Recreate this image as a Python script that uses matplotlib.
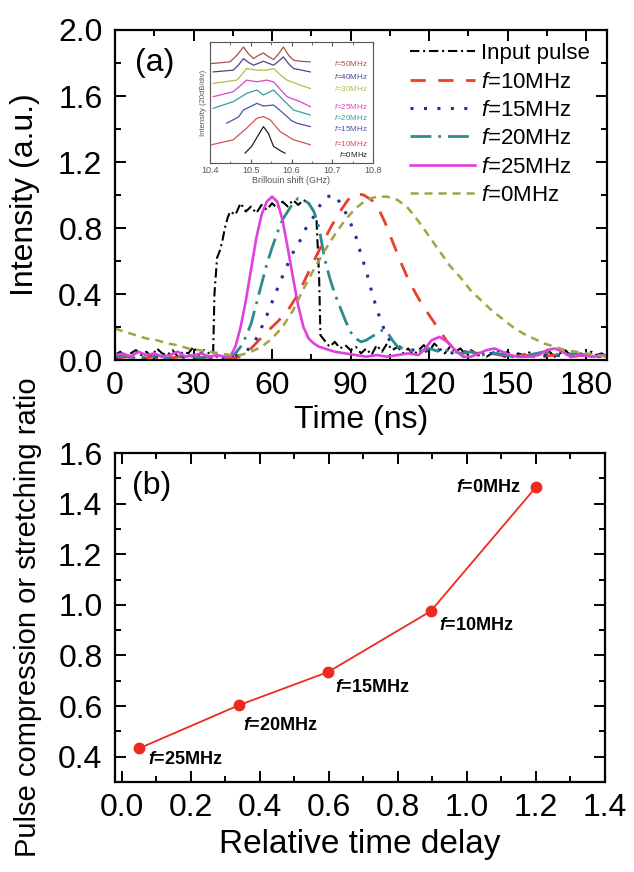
import matplotlib
matplotlib.use("Agg")
import matplotlib.pyplot as plt
from matplotlib.ticker import MultipleLocator, FormatStrFormatter

plt.rcParams['font.family'] = ['Liberation Sans', 'DejaVu Sans']
plt.rcParams['mathtext.fontset'] = 'custom'
plt.rcParams['mathtext.it'] = 'Liberation Sans:italic'
plt.rcParams['mathtext.bf'] = 'Liberation Sans:bold:italic'
plt.rcParams['mathtext.rm'] = 'Liberation Sans'

# ---------------- data: panel (a) time traces (t in ns, intensity a.u.) -------------
input_pulse = [(0,0.03),(2,0.05),(4,0.02),(6,0.04),(8,0.06),(10,0.03),(12,0.05),(14,0.02),(16,0.07),
               (18,0.04),(20,0.03),(22,0.06),(24,0.02),(26,0.05),(28,0.04),(30,0.08),(32,0.03),(34,0.06),
               (36,0.04),(37.5,0.04),(38,0.4),(39,0.62),(40,0.66),(41,0.72),(42,0.8),(43,0.86),(44,0.9),
               (46,0.88),(48,0.95),(50,0.9),(52,0.93),(54,0.89),(56,0.94),(58,0.91),(60,0.95),(62,0.92),
               (64,0.96),(66,0.93),(68,0.97),(70,0.94),(72,0.97),(74,0.95),(76,0.9),(77,0.85),(78,0.5),
               (78.5,0.15),(80,0.12),(82,0.08),(84,0.11),(86,0.07),(88,0.09),(90,0.06),(92,0.08),(94,0.04),
               (96,0.07),(98,0.03),(100,0.09),(102,0.05),(104,0.1),(106,0.06),(108,0.08),(110,0.04),
               (112,0.07),(114,0.03),(116,0.06),(118,0.09),(120,0.05),(122,0.1),(124,0.07),(126,0.04),
               (128,0.08),(130,0.05),(132,0.07),(134,0.03),(136,0.06),(138,0.04),(140,0.05),(142,0.02),
               (144,0.04),(146,0.06),(148,0.03),(150,0.05),(152,0.02),(154,0.04),(156,0.03),(158,0.05),
               (160,0.02),(162,0.04),(164,0.03),(166,0.05),(168,0.02),(170,0.04),(172,0.06),(174,0.03),
               (176,0.05),(178,0.04),(180,0.02),(182,0.05),(184,0.03),(186,0.04),(188,0.02)]
f10 = [(0,0.01),(5,0.02),(10,0.01),(15,0.02),(20,0.01),(25,0.02),(30,0.01),(35,0.02),(40,0.01),(45,0.01),
       (48,0.02),(52,0.07),(55,0.12),(58,0.17),(62,0.23),(66,0.3),(70,0.4),(73,0.5),(76,0.6),(80,0.73),
       (83,0.82),(86,0.9),(89,0.97),(92,1.01),(95,1.0),(98,0.97),(100,0.94),(103,0.84),(106,0.72),
       (109,0.6),(112,0.49),(115,0.4),(118,0.32),(121,0.25),(124,0.18),(127,0.11),(130,0.06),(133,0.04),
       (136,0.05),(140,0.03),(144,0.04),(150,0.02),(156,0.03),(162,0.02),(168,0.03),(174,0.02),(180,0.03),
       (186,0.02)]
f15 = [(0,0.01),(5,0.02),(10,0.01),(15,0.02),(20,0.01),(25,0.02),(30,0.01),(35,0.02),(40,0.01),(45,0.02),
       (50,0.05),(53,0.1),(55,0.16),(58,0.27),(61,0.39),(63,0.47),(66,0.58),(68,0.65),(70.6,0.72),(73,0.8),
       (76,0.87),(78,0.93),(81,0.99),(84,1.0),(87,0.93),(90,0.83),(92,0.75),(94,0.64),(96,0.54),(98,0.42),
       (100,0.31),(102,0.22),(104,0.14),(106,0.1),(110,0.07),(114,0.06),(118,0.05),(122,0.07),(126,0.05),
       (130,0.04),(134,0.05),(138,0.03),(144,0.04),(150,0.02),(156,0.03),(162,0.02),(168,0.03),(174,0.02),
       (180,0.03),(186,0.02)]
f20 = [(0,0.02),(4,0.03),(8,0.01),(12,0.02),(16,0.03),(20,0.01),(24,0.02),(28,0.03),(32,0.01),(36,0.02),
       (40,0.02),(44,0.02),(46,0.04),(48,0.08),(50,0.14),(52,0.22),(54,0.34),(56,0.46),(58,0.58),(60,0.68),
       (62,0.77),(64,0.85),(66,0.9),(68,0.95),(70,0.98),(72,0.97),(74,0.95),(76,0.9),(78,0.8),(80,0.62),
       (82,0.5),(84,0.4),(86,0.32),(88,0.24),(90,0.17),(92,0.13),(94,0.11),(96,0.12),(99,0.15),(102,0.18),
       (104,0.17),(106,0.12),(108,0.08),(112,0.06),(116,0.05),(120,0.07),(124,0.05),(128,0.06),(132,0.04),
       (136,0.05),(140,0.03),(146,0.04),(152,0.02),(158,0.03),(164,0.05),(170,0.03),(176,0.04),(182,0.02),
       (188,0.03)]
f25 = [(0,0.03),(3,0.04),(6,0.02),(9,0.05),(12,0.03),(15,0.04),(18,0.02),(21,0.03),(24,0.05),(27,0.02),
       (30,0.03),(33,0.04),(36,0.02),(39,0.03),(42,0.02),(44,0.02),(46,0.08),(48,0.2),(50,0.36),(52,0.55),
       (54,0.74),(56,0.88),(58,0.96),(60,0.99),(62,0.96),(64,0.85),(66,0.68),(68,0.5),(70,0.33),(72,0.2),
       (74,0.13),(76,0.1),(78,0.08),(80,0.07),(84,0.05),(88,0.04),(92,0.03),(96,0.02),(100,0.03),(104,0.02),
       (108,0.03),(112,0.04),(116,0.03),(118,0.06),(121,0.12),(124,0.14),(127,0.11),(130,0.06),(133,0.02),
       (136,0.02),(139,0.04),(142,0.06),(145,0.07),(148,0.05),(151,0.03),(154,0.02),(158,0.02),(162,0.03),
       (165,0.06),(168,0.07),(171,0.05),(174,0.02),(178,0.03),(182,0.02),(186,0.03),(188,0.02)]
f0 = [(0,0.19),(4,0.17),(8,0.15),(12,0.13),(16,0.12),(20,0.1),(24,0.09),(28,0.07),(32,0.06),(36,0.05),
      (40,0.04),(44,0.03),(48,0.03),(52,0.05),(56,0.08),(60,0.13),(64,0.2),(68,0.3),(72,0.43),(76,0.55),
      (80,0.66),(84,0.76),(88,0.85),(92,0.92),(96,0.97),(100,0.99),(104,0.99),(108,0.97),(112,0.92),
      (116,0.84),(120,0.75),(124,0.66),(128,0.57),(132,0.5),(136,0.42),(140,0.36),(144,0.3),(148,0.25),
      (152,0.2),(156,0.16),(160,0.13),(164,0.1),(168,0.08),(172,0.06),(176,0.05),(180,0.04),(184,0.03),
      (188,0.02)]

legend_labels = ['Input pulse', r'$f$=10MHz', r'$f$=15MHz', r'$f$=20MHz', r'$f$=25MHz', r'$f$=0MHz']

# ---------------- inset spectra (Brillouin shift GHz, intensity in divisions) -------------
sp50 = [(10.404,8.22),(10.449,8.36),(10.466,8.9),(10.482,9.59),(10.495,9.0),(10.507,8.63),(10.519,8.9),
        (10.531,9.10),(10.543,8.8),(10.556,8.55),(10.568,9.0),(10.580,9.59),(10.593,8.9),(10.605,8.49),
        (10.625,8.4),(10.646,8.36)]
sp40 = [(10.408,7.53),(10.457,7.67),(10.470,8.1),(10.482,8.63),(10.495,8.3),(10.507,8.08),(10.531,8.41),
        (10.556,8.08),(10.568,8.4),(10.580,8.77),(10.593,8.2),(10.605,7.81),(10.646,7.53)]
sp30 = [(10.408,6.58),(10.466,6.85),(10.480,7.4),(10.490,7.81),(10.515,7.67),(10.539,7.67),(10.556,7.81),
        (10.572,7.3),(10.589,6.85),(10.621,6.44),(10.646,6.16)]
sp25 = [(10.408,5.48),(10.457,5.89),(10.475,6.4),(10.490,6.85),(10.515,6.71),(10.539,6.85),(10.556,6.71),
        (10.572,6.1),(10.589,5.48),(10.621,5.07),(10.646,4.66)]
sp20 = [(10.408,4.52),(10.457,5.07),(10.490,5.75),(10.515,6.03),(10.531,5.62),(10.556,6.03),(10.580,5.21),
        (10.605,4.38),(10.646,3.97)]
sp15 = [(10.441,3.29),(10.470,3.8),(10.482,4.38),(10.515,4.93),(10.531,4.71),(10.556,4.79),(10.580,4.11),
        (10.600,3.5),(10.613,3.29),(10.646,3.01)]
sp10 = [(10.404,1.51),(10.457,1.92),(10.490,2.88),(10.515,3.70),(10.531,3.84),(10.548,3.56),(10.572,2.60),
        (10.605,1.92),(10.646,1.51)]
sp0 = [(10.486,0.82),(10.502,1.37),(10.519,2.33),(10.531,3.01),(10.543,2.47),(10.556,1.37),(10.576,0.95),
       (10.584,0.82)]
inset_labels = [r'$f$=50MHz', r'$f$=40MHz', r'$f$=30MHz', r'$f$=25MHz', r'$f$=20MHz', r'$f$=15MHz',
                r'$f$=10MHz', r'$f$=0MHz']
inset_label_y = [8.22, 7.18, 6.16, 4.66, 3.75, 2.88, 1.62, 0.72]

# ---------------- panel (b) -------------
delay = [0.05, 0.34, 0.598, 0.895, 1.20]
ratio = [0.433, 0.604, 0.735, 0.975, 1.465]
b_labels = [r'$\mathbf{f}$=25MHz', r'$\mathbf{f}$=20MHz', r'$\mathbf{f}$=15MHz', r'$\mathbf{f}$=10MHz',
            r'$\mathbf{f}$=0MHz']

# ---------------- figure -------------
W, H = 634, 872
fig = plt.figure(figsize=(W/100, H/100), dpi=100)

def frac(l, t, r, b):
    return [l/W, 1-b/H, (r-l)/W, (b-t)/H]

def style_axes(ax, lab=23):
    for s in ax.spines.values():
        s.set_linewidth(1.6)
    ax.tick_params(which='both', direction='in', top=True, right=True, labelsize=lab, width=1.4)
    ax.tick_params(axis='y', which='both', pad=9)
    ax.tick_params(axis='x', which='both', pad=8)
    ax.tick_params(which='major', length=8)
    ax.tick_params(which='minor', length=4.5)

axa = fig.add_axes(frac(115, 30, 607, 360))
style_axes(axa)

series = [input_pulse, f10, f15, f20, f25, f0]
colors = ['black', '#e8402a', '#2b2b9c', '#2a8c8c', '#e040e0', '#a3a343']
styles = [(0, (4.5, 1.8, 1, 1.8)), (0, (5.5, 4.5)), (0, (1, 3.4)), (0, (7.5, 2.5, 1, 2.5)),
          '-', (0, (3.2, 2.4))]
widths = [1.5, 2.0, 2.2, 2.0, 1.9, 1.8]
for data, c, ls, lw, lab in zip(series, colors, styles, widths, legend_labels):
    t = [p[0] for p in data]
    v = [p[1] for p in data]
    axa.plot(t, v, color=c, ls=ls, lw=lw, label=lab)

axa.set_xlim(0, 188)
axa.set_ylim(0, 2.0)
axa.xaxis.set_major_locator(MultipleLocator(30))
axa.xaxis.set_minor_locator(MultipleLocator(15))
axa.yaxis.set_major_locator(MultipleLocator(0.4))
axa.yaxis.set_minor_locator(MultipleLocator(0.2))
axa.xaxis.set_major_formatter(FormatStrFormatter('%d'))
axa.yaxis.set_major_formatter(FormatStrFormatter('%.1f'))
axa.set_xlabel('Time (ns)', fontsize=23, va='center')
axa.set_ylabel('Intensity (a.u.)', fontsize=23, va='center')
axa.xaxis.set_label_coords(0.5, -0.182)
axa.yaxis.set_label_coords(-0.183, 0.5)
axa.text(0.04, 0.9, '(a)', transform=axa.transAxes, fontsize=23, va='center', ha='left')

leg = axa.legend(loc='upper left', bbox_to_anchor=(0.6, 0.96), frameon=False, fontsize=16,
                 handlelength=2.9, handletextpad=0.3, labelspacing=0.33, borderpad=0, borderaxespad=0)

# inset
axi = fig.add_axes(frac(210, 42, 373, 163))
spectra = [sp50, sp40, sp30, sp25, sp20, sp15, sp10, sp0]
icolors = ['#a8504c', '#4d4493', '#b8b84c', '#d448c8', '#3c9c9c', '#5050b0', '#d85050', '#222222']
for sp, c, lab, ly in zip(spectra, icolors, inset_labels, inset_label_y):
    axi.plot([p[0] for p in sp], [p[1] for p in sp], color=c, lw=0.9)
    axi.text(10.788, ly, lab, color=c, fontsize=5.8, ha='right', va='center')
axi.set_xlim(10.4, 10.8)
axi.set_ylim(0, 10)
axi.set_yticks([])
axi.xaxis.set_major_locator(MultipleLocator(0.1))
axi.xaxis.set_minor_locator(MultipleLocator(0.05))
axi.xaxis.set_major_formatter(FormatStrFormatter('%.1f'))
for s in axi.spines.values():
    s.set_linewidth(0.8)
    s.set_color('#555555')
axi.tick_params(which='both', direction='in', top=True, labelsize=6.5, colors='#555555', pad=2)
axi.tick_params(which='major', length=3)
axi.tick_params(which='minor', length=1.8)
axi.set_xlabel('Brillouin shift (GHz)', fontsize=6.5, color='#555555', labelpad=1)
axi.set_ylabel('Intensity (20dB/div)', fontsize=5.5, color='#555555', labelpad=2)

# panel (b)
axb = fig.add_axes(frac(115, 453, 605, 782))
style_axes(axb)
axb.plot(delay, ratio, color='#ee2a1e', lw=1.3, marker='o', ms=7.5, mec='#ee2a1e', mfc='#ee2a1e')
offsets = [(0.026, -0.046, 'left'), (0.012, -0.079, 'left'), (0.02, -0.06, 'left'),
           (0.025, -0.055, 'left'), (-0.045, 0.0, 'right')]
for x, y, lab, (dx, dy, ha) in zip(delay, ratio, b_labels, offsets):
    axb.text(x + dx, y + dy, lab, fontsize=13, fontweight='bold', ha=ha, va='center')
axb.set_xlim(-0.02, 1.4001)
axb.set_ylim(0.3, 1.6)
axb.xaxis.set_major_locator(MultipleLocator(0.2))
axb.xaxis.set_minor_locator(MultipleLocator(0.1))
axb.yaxis.set_major_locator(MultipleLocator(0.2))
axb.yaxis.set_minor_locator(MultipleLocator(0.1))
axb.xaxis.set_major_formatter(FormatStrFormatter('%.1f'))
axb.yaxis.set_major_formatter(FormatStrFormatter('%.1f'))
axb.set_xlabel('Relative time delay', fontsize=24, va='center')
axb.set_ylabel('Pulse compression or stretching ratio', fontsize=21, va='center')
axb.xaxis.set_label_coords(0.5, -0.19)
axb.yaxis.set_label_coords(-0.177, 0.5)
axb.text(0.035, 0.9, '(b)', transform=axb.transAxes, fontsize=23, va='center', ha='left')

fig.savefig('out.png', dpi=100)
